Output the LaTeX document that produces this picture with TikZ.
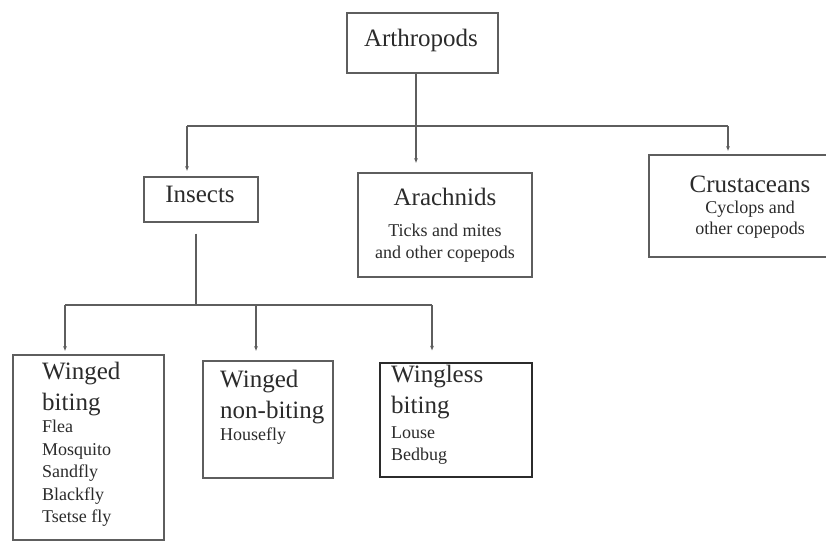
\documentclass[tikz,border=0pt]{standalone}
\usepackage{fontspec}
\setmainfont{Liberation Serif}
\usetikzlibrary{arrows.meta}
\definecolor{linegray}{HTML}{5E5E5E}
\definecolor{inkgray}{HTML}{2B2B2B}
\newcommand{\bigtxt}{\fontsize{25}{31}\selectfont}
\newcommand{\smalltxt}{\fontsize{18}{22}\selectfont}
\begin{document}
\begin{tikzpicture}[x=1pt,y=-1pt,
  box/.style={draw=linegray, line width=1.3pt, inner sep=0pt, fill=white},
  heavybox/.style={box, draw=inkgray, line width=2.2pt},
  label/.style={inner sep=0pt, text=inkgray},
  link/.style={draw=linegray, line width=1.3pt},
  arr/.style={link, -{Latex[length=5pt,width=4pt]}}]
\useasboundingbox (0,0) rectangle (826,542);
\clip (0,0) rectangle (826,542);

% boxes
\node[box, minimum width=151pt, minimum height=60pt]  (arth)  at (422.5,43) {};
\node[box, minimum width=114pt, minimum height=45pt]  (ins)   at (201,199.5) {};
\node[box, minimum width=174pt, minimum height=104pt] (arach) at (445,225) {};
\node[box, minimum width=205pt, minimum height=102pt] (crust) at (751.5,206) {};
\node[box, minimum width=151pt, minimum height=185pt] (wb)    at (88.5,447.5) {};
\node[box, minimum width=130pt, minimum height=117pt] (wnb)   at (268,419.5) {};
\node[heavybox, minimum width=152pt, minimum height=114pt] (wlb) at (456,420) {};

% texts
\node[label, anchor=base] (tArth) at (421,46) {\bigtxt Arthropods};
\node[label, anchor=base] (tIns)  at (200,202) {\bigtxt Insects};
\node[label, anchor=base] (tArach) at (445,205)
  {\parbox[t]{170pt}{\centering\bigtxt Arachnids\par\smalltxt
   \vspace{9pt}Ticks and mites\\and other copepods}};
\node[label, anchor=base] (tCrust) at (750,192)
  {\parbox[t]{170pt}{\centering\bigtxt Crustaceans\par\fontsize{18}{21}\selectfont
   Cyclops and\\other copepods}};
\node[label, anchor=base west] (tWb) at (42,379)
  {\parbox[t]{120pt}{\raggedright\bigtxt Winged\\biting\par\fontsize{18}{22.5}\selectfont
   Flea\\Mosquito\\Sandfly\\Blackfly\\Tsetse fly}};
\node[label, anchor=base west] (tWnb) at (220,387)
  {\parbox[t]{120pt}{\raggedright\bigtxt Winged\\non-biting\par\smalltxt Housefly}};
\node[label, anchor=base west] (tWlb) at (391,382)
  {\parbox[t]{130pt}{\raggedright\bigtxt Wingless\\biting\par\fontsize{18}{22}\selectfont
   \vspace{3pt}Louse\\Bedbug}};

% top level tree
\coordinate (hubTop) at (416,126);
\coordinate (busL)   at (187,126);
\coordinate (busR)   at (728,126);
\draw[link] (arth.south -| hubTop) -- (hubTop);
\draw[link] (busL) -- (busR);
\draw[arr, shorten >=5pt] (busL) -- (busL |- ins.north);
\draw[arr, shorten >=9pt] (hubTop) -- (hubTop |- arach.north);
\draw[arr, shorten >=3pt] (busR) -- (busR |- crust.north);

% insect sub-tree
\coordinate (hubIns) at (196,305);
\coordinate (bus2L)  at (65,305);
\coordinate (bus2M)  at (256,305);
\coordinate (bus2R)  at (432,305);
\draw[link] ([yshift=-11pt] ins.south -| hubIns) -- (hubIns);
\draw[link] (bus2L) -- (bus2R);
\draw[arr, shorten >=3pt] (bus2L) -- (bus2L |- wb.north);
\draw[arr, shorten >=9pt] (bus2M) -- (bus2M |- wnb.north);
\draw[arr, shorten >=11pt] (bus2R) -- (bus2R |- wlb.north);
\end{tikzpicture}
\end{document}
